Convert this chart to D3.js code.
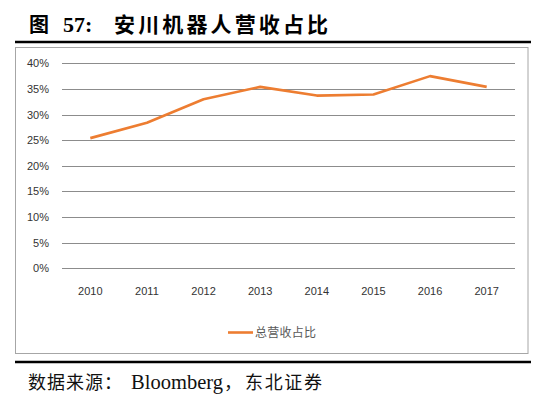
<!DOCTYPE html>
<html><head><meta charset="utf-8">
<script src="https://cdn.jsdelivr.net/npm/d3@7"></script>
<style>body{margin:0;background:#fff}</style>
</head><body>
<svg id="c" width="558" height="420"></svg>
<script>
const years = ["2010","2011","2012","2013","2014","2015","2016","2017"];
const share = [25.4, 28.4, 33.0, 35.4, 33.7, 33.9, 37.5, 35.4];
const yTicks = [0,5,10,15,20,25,30,35,40];
const seriesName = "总营收占比";

const svg = d3.select("#c");
svg.append("rect").attr("width",558).attr("height",420).attr("fill","#fff");

// title
const t = svg.append("g").attr("font-weight","bold").attr("fill","#000");
t.append("text").attr("x",29).attr("y",32).attr("font-family","Noto Sans CJK SC").attr("font-size",20).text("图");
t.append("text").attr("x",63).attr("y",32).attr("font-family","Liberation Serif").attr("font-size",22).text("57:");
t.append("text").attr("x",114).attr("y",32).attr("font-family","Noto Sans CJK SC").attr("font-size",21)
  .attr("textLength",214).attr("lengthAdjust","spacing").text("安川机器人营收占比");

// rules
svg.append("line").attr("x1",15).attr("x2",531).attr("y1",42).attr("y2",42).attr("stroke","#000").attr("stroke-width",2.6);
svg.append("line").attr("x1",15).attr("x2",531).attr("y1",362).attr("y2",362).attr("stroke","#000").attr("stroke-width",2.6);
// frame
svg.append("rect").attr("x",15.5).attr("y",47.5).attr("width",512.5).attr("height",306).attr("fill","none").attr("stroke","#a6a6a6").attr("stroke-width",1);

const x = d3.scaleBand().domain(years).range([62,515]);
const y = d3.scaleLinear().domain([0,40]).range([268.3,63.3]);

// grid
svg.append("g").selectAll("line").data(yTicks).join("line")
  .attr("x1",62).attr("x2",515).attr("y1",d=>Math.round(y(d))+0.5).attr("y2",d=>Math.round(y(d))+0.5)
  .attr("stroke","#8c8c8c").attr("stroke-width",1);

// y axis labels
const ya = svg.append("g").attr("transform","translate(49,0)")
  .call(d3.axisLeft(y).tickValues(yTicks).tickSize(0).tickPadding(0).tickFormat(d=>d+"%"));
ya.select(".domain").remove();
ya.selectAll("text").attr("font-family","Liberation Sans").attr("font-size",11).attr("fill","#333");

// x axis labels
const xa = svg.append("g").attr("transform","translate(0,283)")
  .call(d3.axisBottom(x).tickSize(0).tickPadding(4));
xa.select(".domain").remove();
xa.selectAll("text").attr("font-family","Liberation Sans").attr("font-size",11).attr("fill","#333");

// line
const line = d3.line().x((d,i)=>x(years[i])+x.bandwidth()/2).y(d=>y(d));
svg.append("path").datum(share).attr("d",line).attr("fill","none")
  .attr("stroke","#ED7D31").attr("stroke-width",2.6).attr("stroke-linejoin","round");

// legend
svg.append("line").attr("x1",228).attr("x2",253).attr("y1",332.5).attr("y2",332.5).attr("stroke","#ED7D31").attr("stroke-width",2.6);
svg.append("text").attr("x",255).attr("y",337).attr("font-family","Noto Sans CJK SC").attr("font-size",12)
  .attr("fill","#595959").attr("textLength",61).attr("lengthAdjust","spacing").text(seriesName);

// source
const src = svg.append("g").attr("font-size",18).attr("fill","#111");
src.append("text").attr("x",28).attr("y",389).attr("font-family","Noto Sans CJK SC")
  .attr("textLength",94).attr("lengthAdjust","spacing").text("数据来源：");
src.append("text").attr("x",131).attr("y",389).attr("font-family","Liberation Serif").attr("font-size",20)
  .attr("textLength",92).attr("lengthAdjust","spacingAndGlyphs").text("Bloomberg");
src.append("text").attr("x",224).attr("y",389).attr("font-family","Noto Sans CJK SC").text("，");
src.append("text").attr("x",245).attr("y",389).attr("font-family","Noto Sans CJK SC")
  .attr("textLength",77).attr("lengthAdjust","spacing").text("东北证券");
</script>
</body></html>
